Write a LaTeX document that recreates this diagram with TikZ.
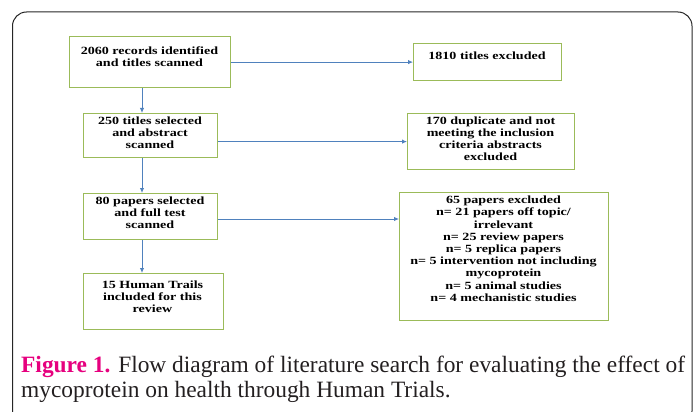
\documentclass[tikz,border=0pt]{standalone}
\usepackage{fontspec}
\setmainfont{Liberation Serif}
\usepackage{graphicx}
\usetikzlibrary{arrows.meta}
\definecolor{boxgreen}{HTML}{9BBB59}
\definecolor{arrblue}{HTML}{4F81BD}
\definecolor{figmag}{HTML}{E6007E}
\definecolor{captxt}{HTML}{231F20}
\newcommand{\boxtext}[1]{\scalebox{1.28}[1]{\begin{tabular}{@{}c@{}}#1\end{tabular}}}
\begin{document}
\begin{tikzpicture}[x=1pt,y=-1pt,
  box/.style={draw=boxgreen,line width=1.2pt,inner sep=0pt,anchor=north west,fill=white},
  btxt/.style={inner sep=0pt,font=\fontsize{11}{12.2}\selectfont\bfseries,text=black},
  arr/.style={draw=arrblue,line width=0.9pt,-{Latex[length=5pt,width=4.5pt]}},
  outerframe/.style={draw=black!85,line width=1pt,rounded corners=14pt},
  captext/.style={inner sep=0pt,anchor=base west,font=\fontsize{23.4}{25}\selectfont,text=captxt}]
\useasboundingbox (0,0) rectangle (697,412);
\begin{scope}
\clip (0,0) rectangle (697,412);
\draw[outerframe] (12.5,12) rectangle (692,425);
\draw[draw=black!55,line width=1.6pt] (692.3,27) -- (692.3,405);
\end{scope}
% boxes
\node[box,minimum width=161pt,minimum height=51pt] (b1) at (69,36) {};
\node[box,minimum width=148pt,minimum height=37pt] (bA) at (413,43) {};
\node[box,minimum width=134pt,minimum height=44pt] (b2) at (83,113) {};
\node[box,minimum width=167pt,minimum height=56pt] (bB) at (407,113) {};
\node[box,minimum width=134pt,minimum height=46pt] (b3) at (83,193) {};
\node[box,minimum width=140pt,minimum height=56pt] (b4) at (83,273) {};
\node[box,minimum width=209pt,minimum height=128pt] (bC) at (399,192) {};
% texts
\node[btxt] (t1) at (149.5,58) {\boxtext{2060 records identified\\and titles scanned}};
\node[btxt] (tA) at (487,57.5) {\boxtext{1810 titles excluded}};
\node[btxt] (t2) at (150,134) {\boxtext{250 titles selected\\and abstract\\scanned}};
\node[btxt] (tB) at (490.5,140) {\boxtext{170 duplicate and not\\meeting the inclusion\\criteria abstracts\\excluded}};
\node[btxt] (t3) at (150,214) {\boxtext{80 papers selected\\and full test\\scanned}};
\node[btxt] (t4) at (152.5,298) {\boxtext{15 Human Trails\\included for this\\review}};
\node[btxt] (tC) at (503.5,250) {\boxtext{65 papers excluded\\n= 21 papers off topic/\\irrelevant\\n= 25 review papers\\n= 5 replica papers\\n= 5 intervention not including\\mycoprotein\\n= 5 animal studies\\n= 4 mechanistic studies}};
% connectors
\coordinate (vx) at (142,0);
\coordinate (hy) at (0,219);
\draw[arr] (b1.south -| vx) -- (b2.north -| vx);
\draw[arr] (b2.south -| vx) -- (b3.north -| vx);
\draw[arr] (b3.south -| vx) -- (b4.north -| vx);
\draw[arr] (b1.east) -- (bA.west |- b1.east);
\draw[arr] (b2.east |- bB.west) -- (bB.west);
\draw[arr] (b3.east |- hy) -- (bC.west |- hy);
% caption
\node[captext] (cap1) at (21,372) {\textcolor{figmag}{\textbf{Figure 1.}} Flow diagram of literature search for evaluating the effect of};
\node[captext] (cap2) at (21,397) {mycoprotein on health through Human Trials.};
\end{tikzpicture}
\end{document}
